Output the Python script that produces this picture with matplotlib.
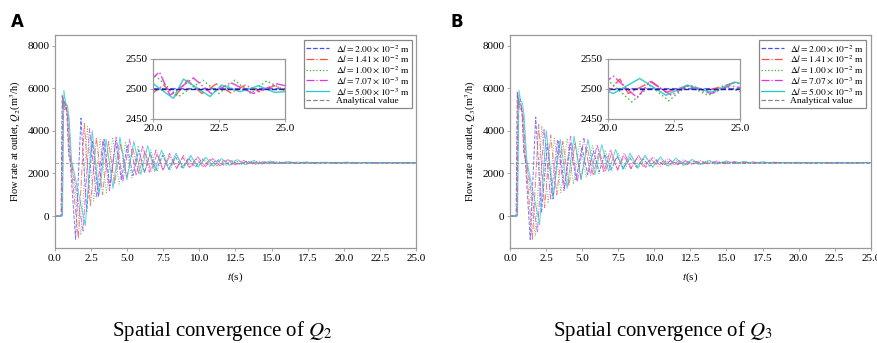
import matplotlib
matplotlib.use("Agg")
import matplotlib.pyplot as plt

plt.rcParams["font.family"] = ["Liberation Serif", "DejaVu Serif"]
plt.rcParams["mathtext.fontset"] = "stix"

legend_labels = [r"$\Delta l = 2.00\times10^{-2}$ m",
                 r"$\Delta l = 1.41\times10^{-2}$ m",
                 r"$\Delta l = 1.00\times10^{-2}$ m",
                 r"$\Delta l = 7.07\times10^{-3}$ m",
                 r"$\Delta l = 5.00\times10^{-3}$ m",
                 "Analytical value"]

analytic_t = [0, 25]
analytic_q = [2500, 2500]

# ---- panel A : Q2 (peaks / troughs) ----
t_a_blue = [0, 0.42, 0.50, 0.58, 0.70, 0.82, 0.95, 1.05,
            1.43, 1.80, 2.20, 2.60, 3.00, 3.40, 3.80, 4.20, 4.60, 5.00,
            5.40, 5.80, 6.20, 6.60, 7.00, 7.45, 7.90, 8.35, 8.80, 9.25,
            9.70, 10.2, 10.7, 11.2, 11.7, 12.2, 12.7, 13.3, 13.9, 14.5,
            15.1, 15.8, 16.5, 17.2, 17.9, 18.6, 19.3, 20.0, 25.0]
q_a_blue = [0, 0, 5700, 5200, 5400, 4800, 2900, 2600,
            -1100, 4600, 200, 3500, 900, 3600, 1400, 3500, 1700, 3300,
            1900, 3100, 2050, 2950, 2150, 2850, 2200, 2780, 2260, 2720,
            2300, 2680, 2340, 2640, 2380, 2600, 2420, 2570, 2440, 2540,
            2465, 2525, 2480, 2515, 2490, 2506, 2496, 2500, 2500]

t_a_red = [0, 0.45, 0.53, 0.62, 0.74, 0.86, 1.00, 1.10,
           1.62, 2.03, 2.45, 2.87, 3.29, 3.71, 4.13, 4.55, 4.97, 5.39,
           5.81, 6.23, 6.65, 7.07, 7.50, 7.95, 8.40, 8.85, 9.30, 9.78,
           10.26, 10.74, 11.22, 11.70, 12.20, 12.75, 13.30, 13.90, 14.50, 15.10,
           15.75, 16.40, 17.10, 17.80, 18.50, 19.20, 19.90, 20.40, 20.85, 21.30,
           21.85, 22.40, 22.95, 23.50, 24.05, 24.60, 25.0]
q_a_red = [0, 0, 5600, 5100, 5300, 4700, 2800, 2500,
           -1050, 4350, 500, 3700, 1000, 3500, 1500, 3400, 1800, 3200,
           2000, 3050, 2100, 2900, 2180, 2820, 2240, 2760, 2280, 2700,
           2320, 2660, 2360, 2620, 2400, 2590, 2430, 2560, 2455, 2540,
           2470, 2525, 2480, 2518, 2486, 2512, 2490, 2506, 2488, 2514,
           2492, 2508, 2493, 2506, 2495, 2505, 2498]

t_a_green = [0, 0.48, 0.56, 0.66, 0.78, 0.90, 1.05, 1.15,
             1.80, 2.24, 2.68, 3.12, 3.56, 4.00, 4.44, 4.88, 5.32, 5.76,
             6.20, 6.64, 7.08, 7.52, 7.98, 8.44, 8.90, 9.38, 9.86, 10.35,
             10.85, 11.35, 11.85, 12.40, 12.95, 13.50, 14.10, 14.70, 15.30, 15.95,
             16.60, 17.25, 17.90, 18.55, 19.30, 20.08, 20.96, 21.90, 22.50, 23.10,
             23.70, 24.30, 25.0]
q_a_green = [0, 0, 5500, 5000, 5200, 4600, 2700, 2400,
             -900, 4200, 700, 3600, 1100, 3700, 1500, 3500, 1800, 3300,
             2000, 3100, 2100, 2950, 2180, 2850, 2240, 2770, 2290, 2710,
             2330, 2660, 2370, 2620, 2410, 2585, 2440, 2560, 2460, 2545,
             2475, 2530, 2482, 2522, 2488, 2522, 2487, 2514, 2492, 2514,
             2492, 2513, 2497]

t_a_mag = [0, 0.50, 0.58, 0.70, 0.82, 0.94, 1.10, 1.20,
           1.95, 2.40, 2.86, 3.32, 3.78, 4.24, 4.70, 5.16, 5.62, 6.08,
           6.54, 7.00, 7.47, 7.94, 8.42, 8.90, 9.40, 9.90, 10.40, 10.92,
           11.44, 11.96, 12.50, 13.05, 13.60, 14.20, 14.80, 15.45, 16.10, 16.85,
           17.60, 18.35, 19.30, 20.24, 20.64, 21.53, 22.20, 22.95, 23.80, 24.70,
           25.0]
q_a_mag = [0, 0, 5500, 5000, 5100, 4500, 2600, 2300,
           -700, 4100, 900, 3500, 1200, 3700, 1600, 3600, 1900, 3300,
           2050, 3100, 2150, 2950, 2220, 2850, 2280, 2770, 2320, 2700,
           2360, 2650, 2400, 2610, 2430, 2580, 2450, 2555, 2468, 2538,
           2478, 2530, 2488, 2528, 2489, 2518, 2492, 2510, 2492, 2508,
           2505]

t_a_cyan = [0, 0.52, 0.62, 0.74, 0.86, 0.98, 1.15, 1.25,
            2.10, 2.58, 3.06, 3.54, 4.02, 4.50, 4.98, 5.46, 5.94, 6.42,
            6.90, 7.38, 7.88, 8.38, 8.88, 9.40, 9.92, 10.45, 10.98, 11.52,
            12.06, 12.62, 13.18, 13.76, 14.34, 14.94, 15.54, 16.16, 16.78, 17.42,
            18.06, 18.72, 19.38, 19.95, 20.77, 21.15, 22.16, 22.60, 23.30, 24.00,
            24.60, 25.0]
q_a_cyan = [0, 0, 5900, 5300, 5200, 4600, 2600, 2300,
            -450, 4000, 1000, 3600, 1300, 3700, 1700, 3500, 1950, 3300,
            2100, 3100, 2180, 2950, 2250, 2850, 2300, 2760, 2340, 2700,
            2380, 2650, 2410, 2610, 2440, 2580, 2460, 2555, 2472, 2538,
            2480, 2526, 2486, 2510, 2484, 2516, 2487, 2506, 2495, 2505,
            2494, 2495]

# ---- panel B : Q3 ----
t_b_blue = [0, 0.42, 0.50, 0.58, 0.70, 0.82, 0.95, 1.05,
            1.40, 1.78, 2.18, 2.58, 2.98, 3.38, 3.78, 4.18, 4.58, 4.98,
            5.38, 5.78, 6.18, 6.58, 6.98, 7.42, 7.86, 8.30, 8.76, 9.22,
            9.68, 10.16, 10.64, 11.14, 11.64, 12.16, 12.68, 13.24, 13.80, 14.40,
            15.00, 15.65, 16.30, 17.00, 17.70, 18.40, 19.10, 19.80, 25.0]
q_b_blue = [0, 0, 5800, 5300, 5500, 4900, 3000, 2700,
            -1100, 4650, 150, 3400, 800, 3500, 1300, 3400, 1700, 3250,
            1950, 3050, 2080, 2900, 2170, 2800, 2230, 2740, 2290, 2690,
            2340, 2640, 2390, 2600, 2425, 2570, 2450, 2548, 2468, 2530,
            2480, 2518, 2488, 2510, 2494, 2505, 2497, 2500, 2500]

t_b_red = [0, 0.45, 0.53, 0.62, 0.74, 0.86, 1.00, 1.10,
           1.55, 1.98, 2.40, 2.82, 3.24, 3.66, 4.08, 4.50, 4.92, 5.34,
           5.76, 6.18, 6.60, 7.02, 7.46, 7.90, 8.36, 8.82, 9.28, 9.76,
           10.24, 10.72, 11.22, 11.72, 12.24, 12.78, 13.32, 13.90, 14.48, 15.08,
           15.70, 16.35, 17.00, 17.70, 18.40, 19.15, 20.00, 20.45, 20.77, 21.65,
           22.20, 23.10, 23.70, 24.80, 25.0]
q_b_red = [0, 0, 5700, 5200, 5300, 4700, 2900, 2500,
           -1100, 4300, 400, 3800, 1000, 3500, 1400, 3450, 1750, 3250,
           1950, 3050, 2080, 2920, 2170, 2820, 2230, 2750, 2280, 2700,
           2330, 2650, 2370, 2610, 2405, 2580, 2435, 2555, 2460, 2538,
           2474, 2526, 2482, 2518, 2488, 2512, 2495, 2516, 2492, 2512,
           2494, 2506, 2496, 2510, 2508]

t_b_green = [0, 0.48, 0.56, 0.66, 0.78, 0.90, 1.05, 1.15,
             1.75, 2.20, 2.64, 3.08, 3.52, 3.96, 4.40, 4.84, 5.28, 5.72,
             6.16, 6.60, 7.05, 7.50, 7.96, 8.42, 8.90, 9.38, 9.88, 10.38,
             10.90, 11.42, 11.96, 12.50, 13.06, 13.64, 14.22, 14.82, 15.44, 16.08,
             16.74, 17.42, 18.12, 18.84, 19.45, 20.05, 20.90, 21.60, 22.30, 23.00,
             23.80, 24.50, 25.0]
q_b_green = [0, 0, 5600, 5100, 5200, 4600, 2800, 2400,
             -950, 4250, 600, 3650, 1100, 3650, 1500, 3500, 1800, 3300,
             2000, 3100, 2120, 2940, 2200, 2840, 2250, 2760, 2300, 2700,
             2340, 2650, 2380, 2610, 2415, 2578, 2440, 2555, 2460, 2540,
             2472, 2528, 2482, 2520, 2494, 2512, 2478, 2505, 2480, 2505,
             2489, 2503, 2495]

t_b_mag = [0, 0.50, 0.58, 0.70, 0.82, 0.94, 1.10, 1.20,
           1.90, 2.36, 2.82, 3.28, 3.74, 4.20, 4.66, 5.12, 5.58, 6.04,
           6.50, 6.96, 7.44, 7.92, 8.40, 8.90, 9.40, 9.92, 10.44, 10.96,
           11.50, 12.04, 12.60, 13.16, 13.74, 14.32, 14.92, 15.54, 16.16, 16.80,
           17.50, 18.25, 19.30, 20.20, 21.10, 21.60, 22.40, 23.00, 23.90, 24.60,
           25.0]
q_b_mag = [0, 0, 5500, 5000, 5100, 4500, 2700, 2300,
           -750, 4100, 800, 3550, 1200, 3750, 1600, 3650, 1900, 3350,
           2050, 3120, 2160, 2960, 2230, 2860, 2280, 2780, 2330, 2710,
           2370, 2660, 2405, 2620, 2435, 2585, 2455, 2560, 2470, 2542,
           2480, 2528, 2490, 2521, 2485, 2512, 2489, 2505, 2492, 2505,
           2502]

t_b_cyan = [0, 0.52, 0.62, 0.74, 0.86, 0.98, 1.15, 1.25,
            2.05, 2.52, 3.00, 3.48, 3.96, 4.44, 4.92, 5.40, 5.88, 6.36,
            6.84, 7.32, 7.82, 8.32, 8.84, 9.36, 9.88, 10.42, 10.96, 11.50,
            12.06, 12.62, 13.20, 13.78, 14.38, 14.98, 15.60, 16.22, 16.86, 17.50,
            18.20, 19.05, 20.20, 21.20, 22.20, 23.00, 23.90, 24.80, 25.0]
q_b_cyan = [0, 0, 5900, 5400, 5300, 4700, 2700, 2300,
            -400, 4000, 900, 3600, 1300, 3750, 1700, 3600, 1950, 3350,
            2100, 3120, 2190, 2960, 2250, 2860, 2300, 2780, 2340, 2720,
            2380, 2660, 2410, 2620, 2440, 2590, 2460, 2562, 2474, 2545,
            2482, 2512, 2492, 2517, 2489, 2506, 2494, 2511, 2509]

colors = ["#4a4aff", "#ff4a4a", "#33b833", "#e033e0", "#22c8c8"]
dashes = ["--", "-.", ":", "-.", "-"]

panels = [
    ("A", "Q_2", [(t_a_blue, q_a_blue), (t_a_red, q_a_red), (t_a_green, q_a_green),
                  (t_a_mag, q_a_mag), (t_a_cyan, q_a_cyan)],
     [0.0626, 0.277, 0.4112, 0.621], [0.1743, 0.6539, 0.1503, 0.175], 0.012, 0.253),
    ("B", "Q_3", [(t_b_blue, q_b_blue), (t_b_red, q_b_red), (t_b_green, q_b_green),
                  (t_b_mag, q_b_mag), (t_b_cyan, q_b_cyan)],
     [0.5809, 0.277, 0.4108, 0.621], [0.6925, 0.6539, 0.1503, 0.175], 0.513, 0.755),
]

fig = plt.figure(figsize=(8.78, 3.43), dpi=100)

for letter, qname, series, rect, rect_in, letter_x, cap_x in panels:
    ax = fig.add_axes(rect)
    axin = fig.add_axes(rect_in)
    handles = []
    for (t, q), c, ls in zip(series, colors, dashes):
        line, = ax.plot(t, q, color=c, ls=ls, lw=0.7, alpha=0.75)
        handles.append(line)
        axin.plot(t, q, color=c, ls=ls, lw=1.1, alpha=0.85)
    line, = ax.plot(analytic_t, analytic_q, color="#888888", ls="--", lw=0.7, alpha=0.7)
    handles.append(line)
    axin.plot(analytic_t, analytic_q, color="#2020a0", ls="--", lw=1.0)

    ax.set_xlim(0, 25)
    ax.set_ylim(-1500, 8500)
    ax.set_xticks([0, 2.5, 5, 7.5, 10, 12.5, 15, 17.5, 20, 22.5, 25])
    ax.set_yticks([0, 2000, 4000, 6000, 8000])
    ax.xaxis.set_major_formatter(matplotlib.ticker.FormatStrFormatter("%.1f"))
    ax.set_xlabel(r"$t$(s)", fontsize=8, labelpad=6)
    ax.set_ylabel(r"Flow rate at outlet, $%s$(m$^3$/h)" % qname, fontsize=7.5, labelpad=3)

    axin.set_xlim(20, 25)
    axin.set_ylim(2450, 2550)
    axin.set_xticks([20, 22.5, 25])
    axin.set_yticks([2450, 2500, 2550])
    axin.xaxis.set_major_formatter(matplotlib.ticker.FormatStrFormatter("%.1f"))

    for a in (ax, axin):
        a.tick_params(labelsize=8, length=2, width=0.6, color="#999999", pad=2)
        for s in a.spines.values():
            s.set_color("#999999")
            s.set_linewidth(0.9)

    leg = ax.legend(handles, legend_labels, loc="upper right", bbox_to_anchor=(0.988, 0.975),
                    fontsize=6.8, frameon=True, fancybox=False, framealpha=1,
                    edgecolor="#888888", labelspacing=0.0, handlelength=2.4,
                    borderpad=0.25, borderaxespad=0, handletextpad=0.7)
    leg.get_frame().set_linewidth(0.9)
    for h in leg.legend_handles:
        h.set_alpha(1)
        h.set_linewidth(0.9)

    fig.text(letter_x, 0.936, letter, fontsize=12, fontweight="bold",
             family="DejaVu Sans", va="center", ha="left")
    fig.text(cap_x, 0.035, r"Spatial convergence of $%s$" % qname, fontsize=15,
             ha="center", va="center")

fig.savefig("out.png", dpi=100)
